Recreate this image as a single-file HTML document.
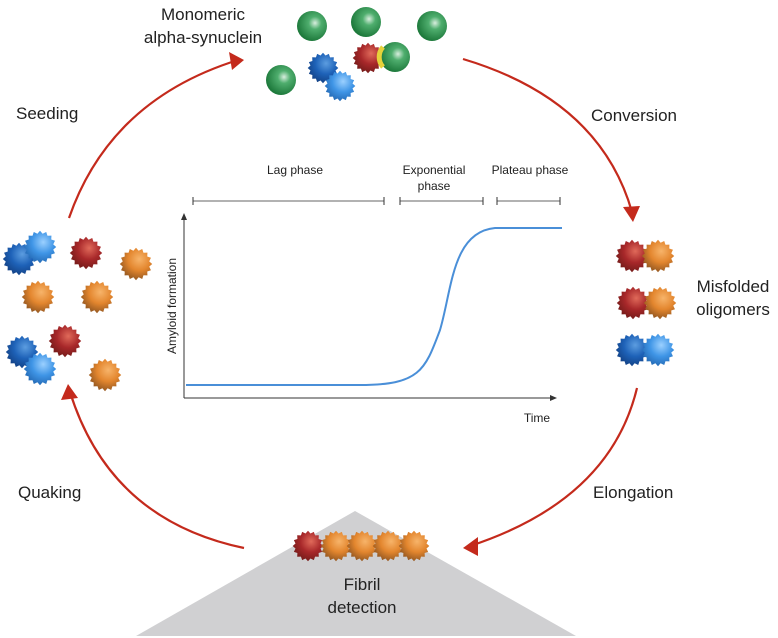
<!DOCTYPE html>
<html><head><meta charset="utf-8"><style>
html,body{margin:0;padding:0;background:#fff;}
svg{display:block}
text{font-family:"Liberation Sans",sans-serif;fill:#222}
</style></head><body>
<svg width="778" height="638" viewBox="0 0 778 638" xmlns="http://www.w3.org/2000/svg">
<defs>
<path id="spk" d="M18,0 14.7,2.9 16.6,6.9 12.5,8.3 12.7,12.7 8.3,12.5 6.9,16.6 2.9,14.7 0,18 -2.9,14.7 -6.9,16.6 -8.3,12.5 -12.7,12.7 -12.5,8.3 -16.6,6.9 -14.7,2.9 -18,0 -14.7,-2.9 -16.6,-6.9 -12.5,-8.3 -12.7,-12.7 -8.3,-12.5 -6.9,-16.6 -2.9,-14.7 0,-18 2.9,-14.7 6.9,-16.6 8.3,-12.5 12.7,-12.7 12.5,-8.3 16.6,-6.9 14.7,-2.9Z"/>
<radialGradient id="gR" cx="0.6" cy="0.35" r="0.7"><stop offset="0" stop-color="#e06a5a"/><stop offset="0.5" stop-color="#a8282a"/><stop offset="1" stop-color="#6e1a18"/></radialGradient>
<radialGradient id="gO" cx="0.6" cy="0.35" r="0.7"><stop offset="0" stop-color="#f7b46a"/><stop offset="0.5" stop-color="#e3862e"/><stop offset="1" stop-color="#8a5220"/></radialGradient>
<radialGradient id="gB" cx="0.6" cy="0.35" r="0.7"><stop offset="0" stop-color="#5c9de0"/><stop offset="0.5" stop-color="#1e62b8"/><stop offset="1" stop-color="#123e80"/></radialGradient>
<radialGradient id="gL" cx="0.6" cy="0.35" r="0.7"><stop offset="0" stop-color="#9bd0ff"/><stop offset="0.5" stop-color="#3f95e6"/><stop offset="1" stop-color="#2266b0"/></radialGradient>
<radialGradient id="gG" cx="0.6" cy="0.4" r="0.6"><stop offset="0" stop-color="#d8eede"/><stop offset="0.35" stop-color="#4fae6e"/><stop offset="1" stop-color="#1e7a3c"/></radialGradient>
<marker id="ah" markerWidth="10" markerHeight="10" refX="6" refY="5" orient="auto" markerUnits="userSpaceOnUse"><path d="M0,0 L10,5 L0,10 Z" fill="#c42a1c"/></marker>
</defs>

<!-- triangle -->
<polygon points="355,511 136,636 576,636" fill="#d0d0d2"/>

<!-- arrows -->
<g stroke="#c42a1c" stroke-width="2.2" fill="none">
<path d="M69,218 Q110,100 238,60"/>
<path d="M463,59 Q600,100 632,212"/>
<path d="M637,388 Q610,500 470,546"/>
<path d="M244,548 Q110,520 70,392"/>
</g>
<g fill="#c42a1c">
<polygon points="244,60 229,52 232,70"/>
<polygon points="633,222 623,207 640,206"/>
<polygon points="463,548 478,537 478,556"/>
<polygon points="68,384 61,400 78,398"/>
</g>

<!-- top green + aggregates -->
<g>
<circle cx="312" cy="26" r="15" fill="url(#gG)"/>
<circle cx="366" cy="22" r="15" fill="url(#gG)"/>
<circle cx="432" cy="26" r="15" fill="url(#gG)"/>
<circle cx="281" cy="80" r="15" fill="url(#gG)"/>
<use href="#spk" fill="url(#gR)" transform="translate(368,58) scale(0.85)"/>
<circle cx="395" cy="57" r="15" fill="url(#gG)"/>
<path d="M383,47 A15,15 0 0 0 383,67" stroke="#e6d23a" stroke-width="5" fill="none"/>
<use href="#spk" fill="url(#gB)" transform="translate(323,68) scale(0.85)"/>
<use href="#spk" fill="url(#gL)" transform="translate(340,86) scale(0.85)"/>
</g>

<!-- left cluster -->
<g>
<use href="#spk" fill="url(#gB)" transform="translate(19,259) scale(0.9)"/>
<use href="#spk" fill="url(#gL)" transform="translate(40,247) scale(0.9)"/>
<use href="#spk" fill="url(#gR)" transform="translate(86,253) scale(0.9)"/>
<use href="#spk" fill="url(#gO)" transform="translate(136,264) scale(0.9)"/>
<use href="#spk" fill="url(#gO)" transform="translate(38,297) scale(0.9)"/>
<use href="#spk" fill="url(#gO)" transform="translate(97,297) scale(0.9)"/>
<use href="#spk" fill="url(#gB)" transform="translate(22,352) scale(0.9)"/>
<use href="#spk" fill="url(#gR)" transform="translate(65,341) scale(0.9)"/>
<use href="#spk" fill="url(#gL)" transform="translate(40,369) scale(0.9)"/>
<use href="#spk" fill="url(#gO)" transform="translate(105,375) scale(0.9)"/>
</g>

<!-- right pairs -->
<g>
<use href="#spk" fill="url(#gR)" transform="translate(632,256) scale(0.9)"/>
<use href="#spk" fill="url(#gO)" transform="translate(658,256) scale(0.9)"/>
<use href="#spk" fill="url(#gR)" transform="translate(633,303) scale(0.9)"/>
<use href="#spk" fill="url(#gO)" transform="translate(660,303) scale(0.9)"/>
<use href="#spk" fill="url(#gB)" transform="translate(632,350) scale(0.9)"/>
<use href="#spk" fill="url(#gL)" transform="translate(658,350) scale(0.9)"/>
</g>

<!-- fibril -->
<g>
<use href="#spk" fill="url(#gR)" transform="translate(308,546) scale(0.85)"/>
<use href="#spk" fill="url(#gO)" transform="translate(336,546) scale(0.85)"/>
<use href="#spk" fill="url(#gO)" transform="translate(362,546) scale(0.85)"/>
<use href="#spk" fill="url(#gO)" transform="translate(388,546) scale(0.85)"/>
<use href="#spk" fill="url(#gO)" transform="translate(414,546) scale(0.85)"/>
</g>

<!-- chart -->
<g stroke="#333" stroke-width="1" fill="none">
<line x1="184" y1="398" x2="184" y2="218"/>
<line x1="184" y1="398" x2="553" y2="398"/>
<line x1="193" y1="201" x2="384" y2="201" stroke="#666"/>
<line x1="193" y1="197" x2="193" y2="205"/><line x1="384" y1="197" x2="384" y2="205"/>
<line x1="400" y1="201" x2="483" y2="201" stroke="#666"/>
<line x1="400" y1="197" x2="400" y2="205"/><line x1="483" y1="197" x2="483" y2="205"/>
<line x1="497" y1="201" x2="560" y2="201" stroke="#666"/>
<line x1="497" y1="197" x2="497" y2="205"/><line x1="560" y1="197" x2="560" y2="205"/>
</g>
<polygon points="184,213 181,220 187,220" fill="#333"/>
<polygon points="557,398 550,395 550,401" fill="#333"/>
<path d="M186,385 L360,385 C420,385 425,370 440,330 C452,290 452,232 495,228 L562,228" stroke="#4a8fd8" stroke-width="2" fill="none"/>

<g font-size="12">
<text x="295" y="174" text-anchor="middle" style="fill:#222">Lag phase</text>
<text x="434" y="174" text-anchor="middle">Exponential</text>
<text x="434" y="190" text-anchor="middle">phase</text>
<text x="530" y="174" text-anchor="middle">Plateau phase</text>
<text x="537" y="422" text-anchor="middle">Time</text>
<text transform="translate(176,306) rotate(-90)" text-anchor="middle">Amyloid formation</text>
</g>

<g font-size="17">
<text x="203" y="20" text-anchor="middle">Monomeric</text>
<text x="203" y="43" text-anchor="middle">alpha-synuclein</text>
<text x="16" y="119">Seeding</text>
<text x="591" y="121">Conversion</text>
<text x="733" y="292" text-anchor="middle">Misfolded</text>
<text x="733" y="315" text-anchor="middle">oligomers</text>
<text x="593" y="498">Elongation</text>
<text x="18" y="498">Quaking</text>
<text x="362" y="590" text-anchor="middle">Fibril</text>
<text x="362" y="613" text-anchor="middle">detection</text>
</g>
</svg>
</body></html>
